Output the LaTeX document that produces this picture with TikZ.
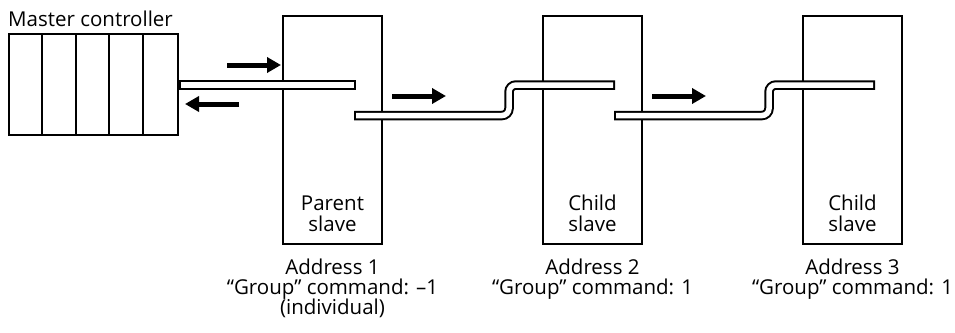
\documentclass[tikz,border=0pt]{standalone}
\usepackage{fontspec}
\setmainfont{Open Sans}
\usetikzlibrary{arrows.meta}
\begin{document}
\begin{tikzpicture}[x=1pt,y=-1pt,
  box/.style={draw, line width=2pt, inner sep=0pt, minimum width=99pt, minimum height=228pt},
  mbox/.style={draw, line width=2pt, inner sep=0pt, minimum width=169pt, minimum height=101pt},
  cable/.style={line width=9.5pt, rounded corners=7pt,
    postaction={draw=white, line width=5.5pt, shorten <=2pt, shorten >=2pt}},
  flow/.style={line width=5pt, -{Triangle[length=14pt,width=15pt]}},
  lbl/.style={font=\fontsize{20.5}{22}\selectfont, inner sep=0pt, anchor=base},
]
\useasboundingbox[fill=white] (0,0) rectangle (955,332);

% master controller
\node[mbox] (master) at (93.5,84.5) {};
\foreach \i in {1,2,3,4}{
  \draw[line width=2pt] ([xshift=\i*33.8pt]master.north west) -- ([xshift=\i*33.8pt]master.south west);
}
\node[lbl, anchor=base west] (mlabel) at (8,27) {Master controller};

% slaves
\node[box] (p1) at (332.5,130) {};
\node[box] (c1) at (592.5,130) {};
\node[box] (c2) at (852.5,130) {};

% cables
\coordinate (k1e) at (356,85);
\draw[cable] (master.east |- k1e) -- (k1e);
\coordinate (k2s) at (354,115.5);
\coordinate (k2b) at (509,85);
\coordinate (k2e) at (615,85);
\draw[cable] (k2s) -| (k2b) -- (k2e);
\coordinate (k3s) at (614,115.5);
\coordinate (k3b) at (769,85);
\coordinate (k3e) at (875,85);
\draw[cable] (k3s) -| (k3b) -- (k3e);

% arrows
\coordinate (f1s) at (227,65);  \coordinate (f1e) at (281,65);
\coordinate (f2s) at (239,104); \coordinate (f2e) at (185,104);
\coordinate (f3s) at (392,96);  \coordinate (f3e) at (446,96);
\coordinate (f4s) at (652,96);  \coordinate (f4e) at (706,96);
\draw[flow] (f1s) -- (f1e);
\draw[flow] (f2s) -- (f2e);
\draw[flow] (f3s) -- (f3e);
\draw[flow] (f4s) -- (f4e);

% box texts
\node[lbl] (p1t1) at (332.5,210) {Parent};
\node[lbl] (p1t2) at (332.5,231.5) {slave};
\node[lbl] (c1t1) at (592.5,210) {Child};
\node[lbl] (c1t2) at (592.5,231.5) {slave};
\node[lbl] (c2t1) at (852.5,210) {Child};
\node[lbl] (c2t2) at (852.5,231.5) {slave};

% address labels
\node[lbl] (a1l1) at (332.5,274.5) {Address 1};
\node[lbl] (a1l2) at (332.5,294.5) {“Group” command: –1};
\node[lbl] (a1l3) at (332.5,314.5) {(individual)};
\node[lbl] (a2l1) at (592.5,274.5) {Address 2};
\node[lbl] (a2l2) at (592.5,294.5) {“Group” command: 1};
\node[lbl] (a3l1) at (852.5,274.5) {Address 3};
\node[lbl] (a3l2) at (852.5,294.5) {“Group” command: 1};
\end{tikzpicture}
\end{document}
